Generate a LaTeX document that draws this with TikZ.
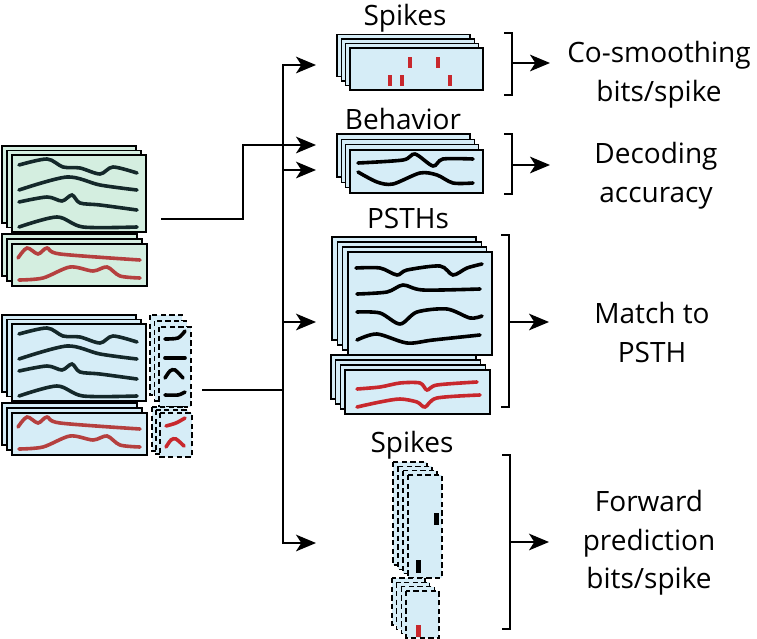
\documentclass[tikz,border=0pt]{standalone}
\usepackage{fontspec}
\setmainfont{Open Sans}
\usetikzlibrary{arrows.meta}
\definecolor{grnbg}{HTML}{D4EEE0}
\definecolor{blubg}{HTML}{D6EDF7}
\definecolor{trcol}{HTML}{14282A}
\definecolor{redtrc}{HTML}{B5403F}
\definecolor{spkred}{HTML}{C8282D}

\begin{document}
\begin{tikzpicture}[x=0.75pt,y=-0.75pt,>={Stealth[length=15pt,width=12.5pt,inset=4pt]},
    panel/.style={draw=black,line width=1pt},
    dpanel/.style={panel,dash pattern=on 4pt off 2.5pt},
    trc/.style={draw=trcol,line width=2.7pt,line cap=round},
    rtrc/.style={trc,draw=redtrc},
    conn/.style={line width=1.2pt},
    lbl/.style={font=\fontsize{21}{29}\selectfont,align=center,inner sep=0pt}]
    \useasboundingbox (0,0) rectangle (757,639);

    % left: train data (green) and test data with held-out parts (blue)
    \foreach \s/\bg in {0/grnbg,169/blubg} {
      \begin{scope}[shift={(0,\s)}]
        \foreach \i in {2,1,0}
          \draw[panel,fill=\bg] (12-5*\i,155-4.5*\i) rectangle ++(134,77);
        \foreach \i in {2,1,0}
          \draw[panel,fill=\bg] (12-5*\i,244-5*\i) rectangle ++(135,42);
        \draw[trc] plot[smooth] coordinates {(19,165) (47,159) (63,167) (80,168) (100,174) (113,167) (137,173)};
        \draw[trc] plot[smooth] coordinates {(19,190) (67,177) (100,185) (137,190)};
        \draw[trc] plot[smooth] coordinates {(19,202) (47,197) (62,201) (72,195) (80,203) (100,205) (137,210)};
        \draw[trc] plot[smooth] coordinates {(19,227) (57,217) (83,227) (137,227)};
        \draw[rtrc] plot[smooth] coordinates {(18,258) (27,248) (38,254) (47,248) (60,254) (140,260)};
        \draw[rtrc] plot[smooth] coordinates {(19,280) (43,278) (70,267) (93,271) (107,267) (120,276) (140,278)};
      \end{scope}
    }
    \foreach \i in {2,1,0}
      \draw[dpanel,fill=blubg] (159-4.5*\i,327-6*\i) rectangle ++(32,80);
    \foreach \i in {2,1,0}
      \draw[dpanel,fill=blubg] (160-4*\i,413-3*\i) rectangle ++(32,44);
    \draw[trc,draw=black] plot[smooth] coordinates {(165,339) (178,338) (185,331)};
    \draw[trc,draw=black] (165,358) -- (185,358);
    \draw[trc,draw=black] plot[smooth] coordinates {(165,378) (170,371) (175,370) (183,378)};
    \draw[trc,draw=black] plot[smooth] coordinates {(165,395) (178,395) (185,392)};
    \draw[trc,draw=spkred] plot[smooth] coordinates {(166,426) (176,423) (185,418)};
    \draw[trc,draw=spkred] plot[smooth] coordinates {(166,447) (171,440) (176,439) (184,446)};

    % right: outputs
    \foreach \i in {3,2,1,0}
      \draw[panel,fill=blubg] (350-4.3*\i,48-4.5*\i) rectangle ++(133,42);
    \foreach \x/\y in {390/75,402/75,410/57,438/57,450/75}
      \fill[spkred] (\x-1.8,\y) rectangle ++(3.6,11);
    \foreach \i in {3,2,1,0}
      \draw[panel,fill=blubg] (350-4.3*\i,150-5.3*\i) rectangle ++(133,43);
    \draw[trc,draw=black] plot[smooth] coordinates {(358,163) (403,160) (415,154) (433,166) (443,159) (473,159)};
    \draw[trc,draw=black] plot[smooth] coordinates {(358,172) (377,182) (393,184) (420,173) (437,175) (453,183) (473,183)};
    \foreach \i in {3,2,1,0}
      \draw[panel,fill=blubg] (348-5.3*\i,252-5*\i) rectangle ++(144,103);
    \foreach \i in {3,2,1,0}
      \draw[panel,fill=blubg] (345-4.7*\i,370-5*\i) rectangle ++(145,44);
    \draw[trc,draw=black] plot[smooth] coordinates {(356,268) (380,268) (397,275) (407,270) (440,266) (453,275) (467,268) (482,264)};
    \draw[trc,draw=black] plot[smooth] coordinates {(357,294) (387,292) (403,285) (423,290) (480,289)};
    \draw[trc,draw=black] plot[smooth] coordinates {(357,312) (380,313) (400,324) (417,312) (447,309) (470,318) (482,316)};
    \draw[trc,draw=black] plot[smooth] coordinates {(357,340) (377,334) (407,343) (433,340) (480,335)};
    \draw[trc,draw=spkred] plot[smooth] coordinates {(357,389) (380,387) (400,383) (420,383) (427,390) (437,385) (477,382)};
    \draw[trc,draw=spkred] plot[smooth] coordinates {(357,407) (380,402) (400,399) (417,402) (425,407) (437,398) (480,395)};
    \foreach \i in {3,2,1,0}
      \draw[dpanel,fill=blubg] (408-5*\i,475-4.3*\i) rectangle ++(34,103);
    \foreach \i in {3,2,1,0}
      \draw[dpanel,fill=blubg] (406-4.7*\i,591-4.3*\i) rectangle ++(33,47);
    \fill (434,513) rectangle ++(4.5,12);
    \fill (416,560) rectangle ++(4.5,13);
    \fill[spkred] (416,625) rectangle ++(4.5,12);

    % labels
    \node[lbl] (spkA) at (405,18.5) {Spikes};
    \node[lbl] (beh) at (403,119) {Behavior};
    \node[lbl] (psth) at (408,218) {PSTHs};
    \node[lbl] (spkB) at (412,445) {Spikes};
    \node[lbl] (cosm) at (659,75) {Co-smoothing\\bits/spike};
    \node[lbl] (dec) at (656,176) {Decoding\\accuracy};
    \node[lbl] (match) at (652,332.5) {Match to\\PSTH};
    \node[lbl] (fwd) at (649,543) {Forward\\prediction\\bits/spike};

    % connectors
    \coordinate (inG) at (161,219);
    \coordinate (inB) at (202,390);
    \coordinate (aSpk) at (316,65);
    \coordinate (aBehA) at (316,145);
    \coordinate (aBehB) at (316,170);
    \coordinate (aPsth) at (316,322);
    \coordinate (aFwd) at (316,543);
    \path (inB) ++(81,0) coordinate (jn);
    \draw[conn,->] (inG) -- ++(82,0) |- (aBehA);
    \draw[conn,->] (inB) -- (jn) |- (aSpk);
    \draw[conn,->] (jn) |- (aFwd);
    \draw[conn,->] (jn |- aBehB) -- (aBehB);
    \draw[conn,->] (jn |- aPsth) -- (aPsth);

    % brackets
    \draw[conn] (504,33) -| (512,95) -- (504,95);
    \draw[conn] (504,134) -| (512,194) -- (504,194);
    \draw[conn] (501,235) -| (509,407) -- (501,407);
    \draw[conn] (502,455) -| (510,629) -- (502,629);
    \coordinate (bSpk) at (512,63);
    \coordinate (bBeh) at (512,165);
    \coordinate (bPsth) at (509,322);
    \coordinate (bFwd) at (510,542);
    \draw[conn,->] (bSpk) -- ++(38,0);
    \draw[conn,->] (bBeh) -- ++(38,0);
    \draw[conn,->] (bPsth) -- ++(40,0);
    \draw[conn,->] (bFwd) -- ++(39,0);
\end{tikzpicture}
\end{document}
